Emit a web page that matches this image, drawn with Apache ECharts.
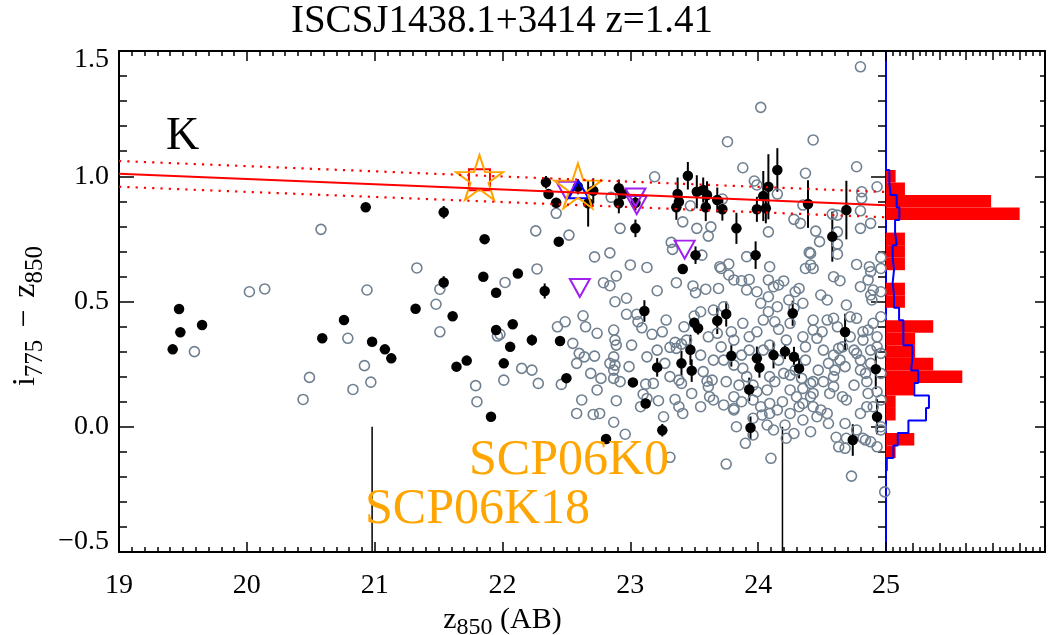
<!DOCTYPE html>
<html><head><meta charset="utf-8">
<script src="https://cdn.jsdelivr.net/npm/echarts@6/dist/echarts.min.js"></script>
<style>html,body{margin:0;padding:0;background:#fff}#c{width:1048px;height:635px}</style>
</head><body><div id="c"></div><script>
// ---------------- DATA ----------------
const titleText = 'ISCSJ1438.1+3414 z=1.41';
const clusterLabel = 'K';
const snNames = ['SCP06K0', 'SCP06K18'];
const xRange = [19, 25];
const yRange = [-0.5, 1.5];
// grey open circles: [z850, i775-z850]
const grayPts = [
[19.59,0.30],[20.58,0.788],[20.02,0.539],[20.14,0.55],[20.79,0.353],[20.92,0.244],[20.94,0.546],[21.33,0.634],[21.48,0.489],[21.51,0.549],[21.51,0.379],[21.96,0.362],[21.98,0.369],[22.02,0.576],[22.26,0.782],[22.27,0.63],[22.15,0.233],[22.23,0.226],[20.44,0.109],[20.49,0.197],[20.83,0.149],[20.97,0.178],
[21.79,0.164],[21.80,0.10],[22.01,0.186],[22.28,0.173],[22.46,0.169],[22.43,0.399],[22.49,0.419],[22.55,0.333],[22.60,0.293],[22.58,0.253],[22.64,0.279],[22.63,0.443],[22.65,0.399],[22.72,0.282],[22.62,0.107],[22.58,0.053],[22.71,0.049],[22.76,0.053],[22.87,0.018],[22.96,-0.03],[22.89,0.104],[22.77,0.193],[22.87,0.193],[22.92,0.18],[22.99,0.24],[22.87,0.226],[22.87,0.279],[22.88,0.246],[22.84,0.253],[22.87,0.386],[22.88,0.346],[22.89,0.326],[23.01,0.326],[22.97,0.449],[23.05,0.449],[23.06,0.419],[23.09,0.395],[23.17,0.369],[23.25,0.379],[23.28,0.426],[23.27,0.253],[23.12,0.17],[23.18,0.173],[23.10,0.13],[23.22,0.104],[23.13,0.113],[23.35,0.337],[23.36,0.313],[23.40,0.33],[23.44,0.346],[23.31,0.317],[23.38,0.186],[23.40,0.173],[23.35,0.109],[23.38,0.08],[23.41,0.053],[23.36,0.575],[23.21,0.543],[23.13,0.636],[23.00,0.646],[22.89,0.602],[22.79,0.575],[22.84,0.563],[22.88,0.499],[22.97,0.513],[22.72,0.678],[22.84,0.694],
[23.49,0.562],[23.51,0.535],[23.59,0.549],[23.69,0.552],[23.50,0.442],[23.55,0.459],[23.55,0.286],[23.57,0.22],[23.60,0.182],[23.64,0.186],[23.61,0.16],[23.62,0.12],[23.65,0.466],[23.73,0.479],[23.71,0.632],[23.77,0.65],[23.77,0.606],[23.81,0.586],[23.87,0.583],[23.93,0.588],[23.91,0.546],[23.79,0.379],[23.81,0.346],[23.71,0.319],[23.73,0.266],[23.81,0.246],[23.88,0.233],[23.81,0.12],[23.87,0.10],[23.83,0.0],[23.90,-0.066],[23.96,0.034],[24.03,0.047],[24.07,0.007],[23.99,0.379],[24.04,0.426],[24.08,0.459],[24.13,0.419],[24.16,0.389],[24.08,0.519],[23.99,0.539],[24.08,0.586],[24.16,0.566],[24.20,0.582],[24.29,0.539],[24.35,0.493],[24.24,0.506],[24.28,0.473],[24.43,0.426],[24.46,0.353],[24.50,0.379],[24.54,0.426],[24.59,0.433],[24.49,0.526],[24.54,0.506],[24.59,0.599],[24.64,0.583],[24.41,0.692],[24.41,0.646],[24.77,0.648],[24.88,0.619],[24.72,0.439],[24.77,0.433],[24.72,0.359],[24.82,0.379],[24.88,0.306],[24.80,0.266],[24.68,0.24],[24.85,0.18],[24.75,0.166],[24.66,0.12],[24.59,0.2],[24.51,0.18],[24.43,0.08],[24.41,0.12],[24.49,0.067],[24.32,0.08],[24.25,0.147],[24.30,0.12],[24.35,0.153],[24.46,0.04],[24.55,0.013],[24.68,0.013],[24.77,-0.013],[24.84,-0.053],[24.69,-0.046],[24.28,-0.027],[24.21,0.007],[24.15,0.067],[24.09,0.093],[24.19,0.10],[24.02,0.08],[24.13,0.18],[24.09,0.2],[24.07,0.147],[23.65,0.107],[23.73,0.087],[24.43,0.18],[24.47,0.226],[24.55,0.253],[24.59,0.286],[24.66,0.319],[24.51,0.306],[24.37,0.266],[24.37,0.319],[24.35,0.359],[24.09,0.326],[24.04,0.306],[24.16,0.266],[24.20,0.213],[24.25,0.206],[23.91,0.2],[23.96,0.166],[23.75,0.18],[23.85,0.166],[23.99,0.14],[23.87,0.286],[23.93,0.306],[24.22,0.346],[24.89,0.506],[24.90,0.546],[24.80,0.559],[24.90,0.413],[24.93,0.14],[24.90,0.08],
[23.31,-0.122],[23.75,-0.149],[23.81,0.073],[23.96,-0.033],[24.09,0.053],[24.10,-0.126],[24.22,-0.046],[24.41,-0.02],[24.61,-0.042],[24.63,-0.08],[24.68,-0.086],[24.73,-0.197],[24.82,-0.046],[24.88,-0.06],[24.96,-0.013],[24.99,-0.26],
[23.76,1.138],[24.43,1.145],[23.88,1.034],[24.37,1.012],[24.77,1.038],[23.19,0.998],[23.97,0.981],[23.99,0.965],[24.15,0.929],[24.81,0.938],[24.81,0.912],[24.80,0.862],[24.80,0.792],[24.35,0.885],[24.28,0.828],[24.33,0.812],[24.45,0.781],[24.62,0.845],[24.62,0.778],[24.48,0.739],[24.40,0.696],[24.62,0.689],[24.08,0.778],[23.91,0.679],[24.09,0.639],[23.72,0.909],[23.47,0.882],[23.41,0.818],[23.52,0.792],[23.63,0.798],[23.61,0.761],[22.92,0.792],[22.85,0.916],[22.52,0.765],[22.42,0.852],[23.32,0.736],[23.33,0.708],[23.56,0.685],[23.70,0.639],[24.62,0.729],[24.88,0.812],
[24.93,0.958],[24.58,0.849],[24.96,0.676],[24.87,0.639],[24.43,0.632],[24.37,0.632],[24.96,0.632],[24.86,0.586],[24.88,0.526],[24.96,0.539],[24.69,0.486],[24.96,0.439],[24.82,0.346],[24.77,0.293],[24.96,0.293],[24.63,0.313],[24.88,0.253],[24.84,0.213],[24.96,0.213],[24.60,0.226],[24.43,0.133],[24.35,0.093],[24.59,0.16],[24.69,0.107],[24.85,0.08],[24.96,0.107],[24.86,0.133],[24.80,0.053],[24.96,0.0],[24.54,0.053],[24.93,-0.08],
[24.80,1.437],[24.02,1.275],
[24.29,0.226],[24.34,0.193],[24.41,0.173],[24.86,0.386],[24.93,0.359],[24.93,0.319],[24.12,0.559],[24.32,0.552],[24.02,0.493],[24.15,0.479],[24.43,0.386],[24.25,0.413],[24.62,0.399],[24.64,0.266],[24.75,0.306],[24.80,0.226],[24.56,0.133],[24.25,0.053],[24.35,0.027],[24.12,-0.013],[23.96,0.107],[23.81,0.067],[23.65,0.266],[23.61,0.359],[23.68,0.373],[23.88,0.413],[23.93,0.359],[23.42,0.399],[23.31,0.2],[23.48,0.133],[23.55,0.08],[23.26,0.04],[23.08,0.08],[22.74,0.147],[22.69,0.213],[22.74,0.373],[23.21,0.306],[23.13,0.279]
];
// black filled points with error: [z850, colour, err]
const blackPts = [
[19.42,0.309,0],[19.47,0.470,0],[19.48,0.377,0],[19.65,0.406,0],[20.59,0.353,0],[20.76,0.426,0],[20.93,0.876,0],[20.98,0.339,0],[21.08,0.309,0],[21.13,0.273,0],[21.32,0.471,0],[21.54,0.856,0.025],[21.54,0.576,0.025],[21.61,0.441,0],[21.64,0.24,0],[21.72,0.264,0],[21.86,0.749,0],[21.85,0.599,0],[21.95,0.535,0],[21.95,0.386,0],[22.08,0.409,0],[22.06,0.319,0],[22.12,0.612,0],[22.01,0.253,0],[22.23,0.346,0.022],[22.33,0.542,0.03],[22.34,0.976,0.025],[22.36,0.929,0.02],[21.91,0.04,0],[22.45,0.342,0],[22.50,0.194,0],[22.81,-0.049,0],[23.11,0.462,0.043],[23.02,0.177,0],[23.12,0.093,0.015],[23.21,0.237,0.037],[23.25,-0.014,0.025],[23.41,0.63,0.02],[23.51,0.685,0.035],[23.47,0.307,0.06],[23.40,0.253,0.05],[23.48,0.224,0.045],[23.50,0.415,0.02],[23.53,0.393,0.025],[23.68,0.423,0.053],[23.75,0.45,0.05],[23.79,0.283,0.043],[23.98,0.685,0.055],[23.93,0.149,0.047],[23.94,-0.004,0.045],[23.99,0.273,0.047],[24.01,0.236,0.04],[24.12,0.286,0.053],[24.21,0.30,0.03],[24.27,0.453,0.05],[24.28,0.279,0.04],[24.32,0.233,0.04],[24.68,0.378,0.073],[24.74,-0.053,0.063],[24.92,0.23,0.08],[24.93,0.04,0.07],[24.39,0.889,0.095],[24.69,0.865,0.117],[24.58,0.759,0.1],[24.15,1.025,0.087],[22.44,0.739,0],[22.42,0.894,0.02],[22.59,0.958,0.03],[22.67,0.892,0.093],[22.71,0.942,0.05],[22.91,0.952,0.035],[22.94,0.929,0.02],[22.91,0.892,0.04],[23.04,0.894,0.03],[23.04,0.792,0.035],[23.37,0.929,0.066],[23.38,0.898,0.03],[23.36,0.876,0.05],[23.45,1.002,0.055],[23.52,0.938,0.066],[23.57,0.945,0.05],[23.60,0.925,0.055],[23.59,0.876,0.055],[23.68,0.905,0.05],[23.72,0.868,0.045],[23.83,0.792,0.062],[23.99,0.868,0.05],[24.04,0.921,0.1],[24.06,0.872,0.06],[24.08,0.958,0.13]
];
const purpleTri = [[22.50,0.942],[23.04,0.915],[23.05,0.885],[23.425,0.707],[22.605,0.554]];
const blueTri = [[22.595,0.946]];
const redSquare = [[21.82,0.986]];
const snStars = [[21.82,0.986],[22.59,0.952]];
// red-sequence fit and its +/- scatter
const fitX = [19, 25];
const fitY = [1.010, 0.884];
const fitUpper = [1.061, 0.937];
const fitLower = [0.958, 0.836];
// vertical SN markers: [z850, top colour]
const snLineX = [20.98, 24.19];
const snLineTop = [0.0, 0.0];
// colour histograms (bins of 0.05 centred on histBinY)
const histBinWidth = 0.05;
const histBinY = [1.00,0.95,0.90,0.85,0.80,0.75,0.70,0.65,0.60,0.55,0.50,0.45,0.40,0.35,0.30,0.25,0.20,0.15,0.10,0.05,0.00,-0.05,-0.10,-0.15];
const histRed  = [0.36,0.71,3.94,5.01,0,0.71,0.71,0.71,0,0.71,0.71,0,1.77,1.09,1.09,1.77,2.86,1.03,0.36,0.36,0,1.06,0.36,0];
const histBlue = [0.125,0.175,0.4,0.5,0.34,0.4,0.25,0.3,0.25,0.3,0.3,0.49,0.65,0.65,0.99,0.94,1.21,1.06,1.61,1.5,0.84,0.44,0.275,0.03];
const histMax = 5.96;

// ---------------- CHART ----------------
const FONT = '"Liberation Serif", "Times New Roman", serif';
const GRAY = '#708090', ORANGE = '#FFA500', PURPLE = '#A020F0';
const chart = echarts.init(document.getElementById('c'), null, {renderer: 'canvas'});

const tickLine = {color: '#000', width: 1.5};
function axisCommon(extra) {
  return Object.assign({
    type: 'value', splitLine: {show: false}, minorSplitLine: {show: false},
    axisLine: {show: true, onZero: false, lineStyle: {color: '#000', width: 2}},
    axisTick: {show: true, inside: true, length: 10, lineStyle: tickLine},
    minorTick: {show: true, splitNumber: 10, length: 5, lineStyle: tickLine},
    axisLabel: {show: false}
  }, extra);
}
const richX = {
  n: {fontFamily: FONT, fontSize: 30, color: '#000', lineHeight: 40, verticalAlign: 'middle'},
  s: {fontFamily: FONT, fontSize: 24, color: '#000', lineHeight: 24, verticalAlign: 'bottom'}
};
const richY = {
  n: {fontFamily: FONT, fontSize: 32, fill: '#000', lineHeight: 44, verticalAlign: 'middle'},
  s: {fontFamily: FONT, fontSize: 25, fill: '#000', lineHeight: 25, verticalAlign: 'bottom'},
  m: {fontFamily: FONT, fontSize: 32, fill: '#000', lineHeight: 44, verticalAlign: 'middle', padding: [0, 12, 0, 12]}
};
const yFmt = v => {
  const t = (v < 0 ? '\u2212' : '') + Math.abs(v).toFixed(1);
  if (v === yRange[0]) return '{lo|' + t + '}';
  if (v === yRange[1]) return '{hi|' + t + '}';
  return t;
};
const yLabelRich = {
  lo: {fontFamily: FONT, fontSize: 28, color: '#000', padding: [0, 0, 20, 0]},
  hi: {fontFamily: FONT, fontSize: 28, color: '#000', padding: [18, 0, 0, 0]}
};

const blueStep = [[0, histBinY[0] + histBinWidth / 2]];
histBinY.forEach((y, i) => {
  blueStep.push([histBlue[i], y + histBinWidth / 2]);
  blueStep.push([histBlue[i], y - histBinWidth / 2]);
});
blueStep.push([0, histBinY[histBinY.length - 1] - histBinWidth / 2]);

const starPath = 'path://M50,0 L61.2,34.5 L97.6,34.5 L68.2,55.9 L79.4,90.5 L50,69.1 L20.6,90.5 L31.8,55.9 L2.4,34.5 L38.8,34.5 Z';
const openStyle = c => ({color: 'rgba(0,0,0,0)', borderColor: c, borderWidth: 2, opacity: 1});

const option = {
  animation: false,
  backgroundColor: '#fff',
  grid: [
    {left: 119, top: 51, width: 767, height: 501, containLabel: false, outerBoundsMode: 'none'},
    {left: 886, top: 51, width: 159, height: 501, containLabel: false, outerBoundsMode: 'none'}
  ],
  xAxis: [
    axisCommon({gridIndex: 0, position: 'bottom', min: xRange[0], max: xRange[1], interval: 1,
      axisLabel: {show: true, fontFamily: FONT, fontSize: 28, color: '#000', margin: 20},
      name: '{n|z}{s|850}{n| (AB)}', nameLocation: 'middle', nameGap: 27,
      nameTextStyle: {rich: richX}}),
    axisCommon({gridIndex: 0, position: 'top', min: xRange[0], max: xRange[1], interval: 1}),
    axisCommon({gridIndex: 1, position: 'bottom', min: 0, max: histMax, interval: 1,
      axisTick: {show: true, inside: true, length: 9, lineStyle: tickLine},
      minorTick: {show: true, splitNumber: 4, length: 5, lineStyle: tickLine}}),
    axisCommon({gridIndex: 1, position: 'top', min: 0, max: histMax, interval: 1,
      axisTick: {show: true, inside: true, length: 9, lineStyle: tickLine},
      minorTick: {show: true, splitNumber: 4, length: 5, lineStyle: tickLine}})
  ],
  yAxis: [
    axisCommon({gridIndex: 0, position: 'left', min: yRange[0], max: yRange[1], interval: 0.5,
      axisTick: {show: true, inside: true, length: 15, lineStyle: tickLine},
      minorTick: {show: true, splitNumber: 5, length: 8, lineStyle: tickLine},
      axisLabel: {show: true, fontFamily: FONT, fontSize: 28, color: '#000', margin: 10, formatter: yFmt, rich: yLabelRich}}),
    axisCommon({gridIndex: 0, position: 'right', min: yRange[0], max: yRange[1], interval: 0.5,
      axisLine: {show: true, onZero: false, lineStyle: {color: '#0000ff', width: 2}},
      axisTick: {show: true, inside: true, length: 15, lineStyle: tickLine},
      minorTick: {show: true, splitNumber: 5, length: 8, lineStyle: tickLine}}),
    axisCommon({gridIndex: 1, position: 'right', min: yRange[0], max: yRange[1], interval: 0.5,
      axisTick: {show: true, inside: true, length: 10, lineStyle: tickLine},
      minorTick: {show: true, splitNumber: 5, length: 5, lineStyle: tickLine}})
  ],
  series: [
    {type: 'scatter', xAxisIndex: 0, yAxisIndex: 0, data: grayPts, symbol: 'circle', symbolSize: 10,
      itemStyle: {color: 'rgba(0,0,0,0)', borderColor: GRAY, borderWidth: 1.6, opacity: 1}, silent: true},
    {type: 'line', xAxisIndex: 0, yAxisIndex: 0, data: fitX.map((x, i) => [x, fitY[i]]), symbol: 'none',
      lineStyle: {color: '#ff0000', width: 2}, silent: true},
    {type: 'line', xAxisIndex: 0, yAxisIndex: 0, data: fitX.map((x, i) => [x, fitUpper[i]]), symbol: 'none',
      lineStyle: {color: '#ff0000', width: 2.2, type: [2.2, 6.1]}, silent: true},
    {type: 'line', xAxisIndex: 0, yAxisIndex: 0, data: fitX.map((x, i) => [x, fitLower[i]]), symbol: 'none',
      lineStyle: {color: '#ff0000', width: 2.2, type: [2.2, 6.1]}, silent: true},
    {type: 'custom', xAxisIndex: 0, yAxisIndex: 0, data: snLineX.map((x, i) => [x, snLineTop[i]]),
      encode: {x: 0, y: 1}, silent: true,
      renderItem: (p, api) => {
        const a = api.coord([api.value(0), api.value(1)]);
        const b = api.coord([api.value(0), yRange[0]]);
        return {type: 'line', shape: {x1: a[0], y1: a[1], x2: b[0], y2: b[1]}, style: {stroke: '#000', lineWidth: 1.5}};
      }},
    {type: 'custom', xAxisIndex: 0, yAxisIndex: 0, data: blackPts, encode: {x: 0, y: 1}, silent: true,
      renderItem: (p, api) => {
        const e = api.value(2);
        if (!e) return {type: 'group', children: []};
        const a = api.coord([api.value(0), api.value(1) - e]);
        const b = api.coord([api.value(0), api.value(1) + e]);
        return {type: 'line', shape: {x1: a[0], y1: a[1], x2: b[0], y2: b[1]}, style: {stroke: '#000', lineWidth: 2}};
      }},
    {type: 'scatter', xAxisIndex: 0, yAxisIndex: 0, data: blackPts.map(d => [d[0], d[1]]), symbol: 'circle',
      symbolSize: 10.5, itemStyle: {color: '#000', opacity: 1}, silent: true},
    {type: 'scatter', xAxisIndex: 0, yAxisIndex: 0, data: purpleTri, symbol: 'triangle', symbolRotate: 180,
      symbolSize: [20, 18], itemStyle: openStyle(PURPLE), silent: true},
    {type: 'scatter', xAxisIndex: 0, yAxisIndex: 0, data: blueTri, symbol: 'triangle',
      symbolSize: [20, 17], itemStyle: openStyle('#0000ff'), silent: true},
    {type: 'scatter', xAxisIndex: 0, yAxisIndex: 0, data: redSquare, symbol: 'rect',
      symbolSize: 21, itemStyle: openStyle('#ff0000'), silent: true},
    {type: 'scatter', xAxisIndex: 0, yAxisIndex: 0, data: snStars, symbol: starPath, symbolSize: [47, 45],
      symbolOffset: [0, -2.3], itemStyle: openStyle(ORANGE), silent: true},
    {type: 'custom', xAxisIndex: 2, yAxisIndex: 2, data: histBinY.map((y, i) => [histRed[i], y]),
      encode: {x: 0, y: 1}, silent: true,
      renderItem: (p, api) => {
        const c = api.value(0), y = api.value(1);
        if (!c) return {type: 'group', children: []};
        const a = api.coord([0, y + histBinWidth / 2]);
        const b = api.coord([c, y - histBinWidth / 2]);
        return {type: 'rect', shape: {x: a[0], y: a[1], width: b[0] - a[0], height: b[1] - a[1]}, style: {fill: '#ff0000'}};
      }},
    {type: 'line', xAxisIndex: 2, yAxisIndex: 2, data: blueStep, symbol: 'none',
      lineStyle: {color: '#0000ff', width: 2}, silent: true}
  ],
  graphic: [
    {type: 'text', x: 502, y: 22, z: 100, style: {text: titleText, font: '39px ' + FONT, fill: '#000',
      align: 'center', verticalAlign: 'middle', textAlign: 'center', textVerticalAlign: 'middle'}},
    {type: 'text', x: 166, y: 137, z: 100, style: {text: clusterLabel, font: '46px ' + FONT, fill: '#000',
      align: 'left', verticalAlign: 'middle', textAlign: 'left', textVerticalAlign: 'middle'}},
    {type: 'text', x: 469, y: 461, z: 100, style: {text: snNames[0], font: '50px ' + FONT, fill: ORANGE,
      align: 'left', verticalAlign: 'middle', textAlign: 'left', textVerticalAlign: 'middle'}},
    {type: 'text', x: 365, y: 510, z: 100, style: {text: snNames[1], font: '50px ' + FONT, fill: ORANGE,
      align: 'left', verticalAlign: 'middle', textAlign: 'left', textVerticalAlign: 'middle'}},
    {type: 'text', x: 26, y: 316, rotation: Math.PI / 2, z: 100,
      style: {text: '{n|i}{s|775}{m|\u2212}{n|z}{s|850}', rich: richY, fill: '#000',
        font: '32px ' + FONT, align: 'center', verticalAlign: 'middle', textAlign: 'center', textVerticalAlign: 'middle'}}
  ]
};
chart.setOption(option);
</script></body></html>
